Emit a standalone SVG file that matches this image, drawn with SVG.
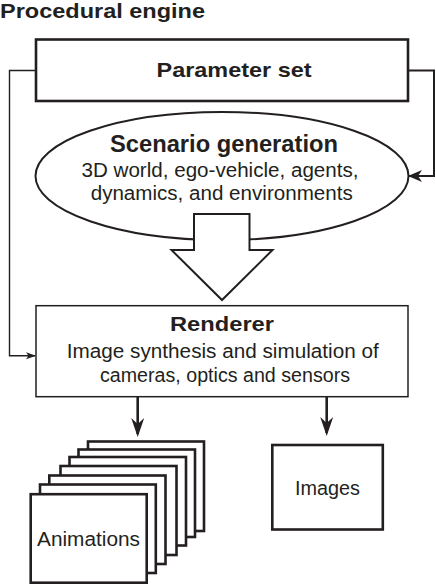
<svg xmlns="http://www.w3.org/2000/svg" width="436" height="584" viewBox="0 0 436 584">
<style>
text{font-family:"Liberation Sans",Arial,sans-serif;fill:#231f20}
.b{font-weight:bold}
.t{font-size:20px;text-anchor:middle}
.h{font-size:21px;text-anchor:middle;font-weight:bold}
.box{fill:#fff;stroke:#231f20}
.fr{fill:#fff;stroke:#231f20;stroke-width:2.6}
.ln{fill:none;stroke:#231f20}
</style>
<defs>
<marker id="big" markerUnits="userSpaceOnUse" markerWidth="24" markerHeight="24" viewBox="-20 -12 24 24" refX="0" refY="0" orient="auto" overflow="visible">
<path d="M1,0 L-13,-6 L-9,0 L-13,6 z" fill="#231f20"/>
</marker>
<marker id="sm" markerUnits="userSpaceOnUse" markerWidth="16" markerHeight="16" viewBox="-12 -8 16 16" refX="0" refY="0" orient="auto" overflow="visible">
<path d="M1,0 L-9,-3.5 L-6.5,0 L-9,3.5 z" fill="#231f20"/>
</marker>
<marker id="dn" markerUnits="userSpaceOnUse" markerWidth="30" markerHeight="30" viewBox="-24 -12 30 30" refX="0" refY="0" orient="auto" overflow="visible">
<path d="M3,0 L-16,-6.5 L-10,0 L-16,6.5 z" fill="#231f20"/>
</marker>
</defs>

<text x="0" y="18" class="b" style="font-size:19.5px" textLength="205" lengthAdjust="spacingAndGlyphs">Procedural engine</text>

<g id="connectors">
<path class="ln" style="stroke-width:1.4" d="M36,70.5 H9.5 V355.7 H35" marker-end="url(#sm)"/>
<path class="ln" style="stroke-width:2" d="M408,70.5 H434 V176 H409" marker-end="url(#big)"/>
<path class="ln" style="stroke-width:2.6" d="M137.7,397 V434" marker-end="url(#dn)"/>
<path class="ln" style="stroke-width:2.6" d="M326.7,397 V433" marker-end="url(#dn)"/>
</g>

<g id="parameter-set">
<rect class="box" x="36" y="39.5" width="372" height="61.5" style="stroke-width:2.6"/>
<text class="h" x="234" y="77.3" textLength="155" lengthAdjust="spacingAndGlyphs">Parameter set</text>
</g>

<g id="scenario-generation">
<ellipse class="box" cx="222" cy="176" rx="186.5" ry="64" style="stroke-width:2"/>
<text class="h" x="224" y="151.7" style="font-size:23px" textLength="228" lengthAdjust="spacingAndGlyphs">Scenario generation</text>
<text class="t" x="220" y="177.3" textLength="277" lengthAdjust="spacingAndGlyphs">3D world, ego-vehicle, agents,</text>
<text class="t" x="221.7" y="200" textLength="262" lengthAdjust="spacingAndGlyphs">dynamics, and environments</text>
</g>

<g id="flow-arrow">
<polygon class="box" style="stroke-width:2" points="194,214 249.5,214 249.5,250 272.5,250 222,300 171.5,250 194,250"/>
</g>

<g id="renderer">
<rect class="box" x="36" y="305.7" width="372" height="91" style="stroke-width:1.5"/>
<text class="h" x="222" y="330.7" textLength="104" lengthAdjust="spacingAndGlyphs">Renderer</text>
<text class="t" x="222.8" y="358.3" textLength="312" lengthAdjust="spacingAndGlyphs">Image synthesis and simulation of</text>
<text class="t" x="225" y="381.7" textLength="250" lengthAdjust="spacingAndGlyphs">cameras, optics and sensors</text>
</g>

<g id="animations">
<rect class="fr" x="88" y="441.5" width="116" height="89.5"/>
<rect class="fr" x="78.5" y="449.5" width="116.5" height="87.5"/>
<rect class="fr" x="69.5" y="457" width="116.5" height="88.5"/>
<rect class="fr" x="60.5" y="466" width="116" height="89"/>
<rect class="fr" x="49.3" y="475.5" width="116.2" height="88.5"/>
<rect class="fr" x="40" y="484.5" width="115.8" height="88.5"/>
<rect class="fr" x="30.7" y="494.2" width="116" height="88.5"/>
<text class="t" x="88.5" y="545.7" textLength="103" lengthAdjust="spacingAndGlyphs">Animations</text>
</g>

<g id="images">
<rect class="box" x="272.3" y="445" width="110.5" height="84.5" style="stroke-width:2.6"/>
<text class="t" x="327.5" y="495" textLength="65" lengthAdjust="spacingAndGlyphs">Images</text>
</g>
</svg>
